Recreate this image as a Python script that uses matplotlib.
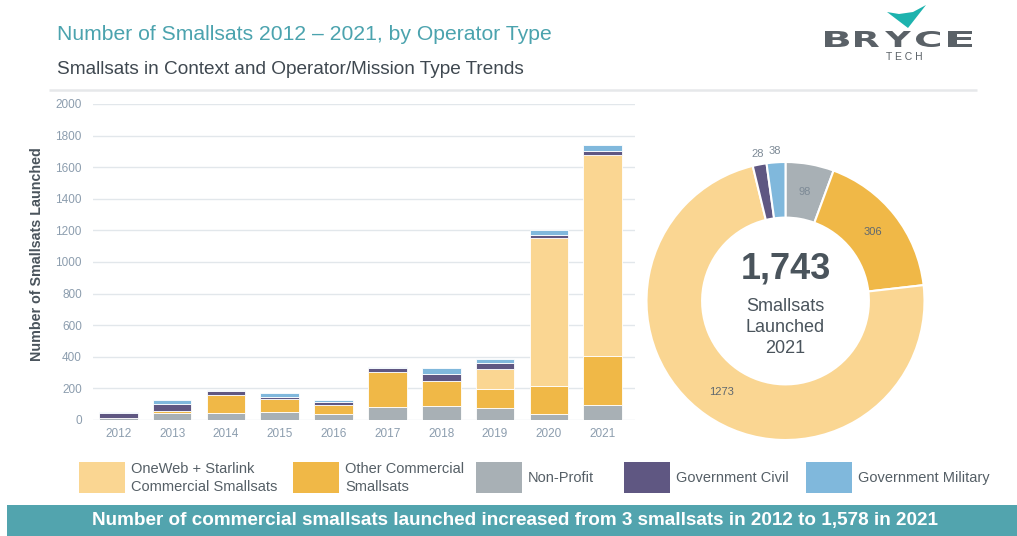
import numpy as np
import matplotlib
matplotlib.use('Agg')
import matplotlib.pyplot as plt
from matplotlib.patches import Rectangle, Polygon, PathPatch
from matplotlib.textpath import TextPath
from matplotlib.font_manager import FontProperties
from matplotlib.transforms import Affine2D

plt.rcParams['font.family'] = ['Liberation Sans', 'DejaVu Sans']

years = ['2012', '2013', '2014', '2015', '2016', '2017', '2018', '2019', '2020', '2021']
non_profit = [11, 46, 42, 51, 36, 80, 91, 78, 40, 98]
other_comm = [3, 13, 114, 80, 59, 226, 156, 116, 173, 306]
oneweb_starlink = [0, 0, 0, 0, 0, 0, 0, 127, 937, 1273]
gov_civil = [28, 40, 25, 17, 21, 21, 46, 42, 23, 28]
gov_military = [9, 30, 11, 23, 8, 8, 34, 25, 28, 38]

legend_labels = ['OneWeb + Starlink\nCommercial Smallsats', 'Other Commercial\nSmallsats',
                 'Non-Profit', 'Government Civil', 'Government Military']

C_ONEWEB = '#FAD692'
C_OTHER = '#F0B847'
C_NONPROF = '#A8B0B5'
C_CIVIL = '#5F5782'
C_MIL = '#80B8DC'
TEAL = '#4BA3AE'
DARK = '#4A545C'
TICK = '#8C9DAE'

W, H = 1017, 536
fig = plt.figure(figsize=(W / 100, H / 100), dpi=100)
fig.patch.set_facecolor('white')

# pixel-space overlay for titles, legend, logo and banner
ov = fig.add_axes([0, 0, 1, 1])
ov.set_xlim(0, W)
ov.set_ylim(H, 0)
ov.axis('off')

ov.text(57, 34, 'Number of Smallsats 2012 \u2013 2021, by Operator Type', fontsize=15.2,
        color=TEAL, va='center', ha='left')
ov.text(57, 70, 'Smallsats in Context and Operator/Mission Type Trends', fontsize=13.7,
        color='#3F4850', va='center', ha='left')
ov.plot([49, 977], [90, 90], color='#E6E8EA', lw=1.8, solid_capstyle='butt')

# logo
ov.add_patch(Polygon([(887, 12), (908, 28), (926, 5), (913, 12), (899, 14)],
                     closed=True, color='#1DB3AE', lw=0))
fp = FontProperties(family='DejaVu Sans', weight='bold')
for ch, cx in zip('BRYCE', [837, 867, 898, 928, 960]):
    tp = TextPath((0, 0), ch, size=10, prop=fp)
    ext = tp.get_extents()
    sy = 16 / ext.height
    sx = 24 / ext.width if ch != 'Y' else 26 / ext.width
    tr = Affine2D().translate(-(ext.x0 + ext.width / 2), -ext.y0).scale(sx, -sy).translate(cx, 47)
    ov.add_patch(PathPatch(tr.transform_path(tp), color='#5A6167', lw=0))
ov.text(904, 57, 'T E C H', fontsize=7.5, color='#5A6167', ha='center', va='center')

# stacked bars
ax = fig.add_axes([93 / W, 1 - 420 / H, (635 - 93) / W, 316 / H])
x = np.arange(len(years))
bw = 0.72
bottom = np.zeros(len(years))
for vals, col in [(non_profit, C_NONPROF), (other_comm, C_OTHER), (oneweb_starlink, C_ONEWEB),
                  (gov_civil, C_CIVIL), (gov_military, C_MIL)]:
    ax.bar(x, vals, bw, bottom=bottom, color=col, edgecolor='white', linewidth=0.6, zorder=3)
    bottom += np.array(vals)
ax.set_xlim(-0.47, 9.6)
ax.set_ylim(0, 2000)
ax.set_yticks(range(0, 2001, 200))
ax.set_xticks(x)
ax.set_xticklabels(years)
ax.grid(axis='y', color='#E2E7EB', lw=1, zorder=0)
for s in ax.spines.values():
    s.set_visible(False)
ax.tick_params(length=0, colors=TICK, labelsize=8.5)
ax.tick_params(axis='y', pad=8)
ax.tick_params(axis='x', pad=6)
fig.text(37 / W, 1 - 254 / H, 'Number of Smallsats Launched', rotation=90, fontsize=10.3,
         fontweight='bold', color=DARK, ha='center', va='center')

# donut for 2021
r_px = 139
cx, cy = 785.5, 301
pax = fig.add_axes([(cx - r_px) / W, 1 - (cy + r_px) / H, 2 * r_px / W, 2 * r_px / H])
last = len(years) - 1
d_vals = [non_profit[last], other_comm[last], oneweb_starlink[last], gov_civil[last], gov_military[last]]
d_cols = [C_NONPROF, C_OTHER, C_ONEWEB, C_CIVIL, C_MIL]
pax.pie(d_vals, colors=d_cols, startangle=90, counterclock=False,
        wedgeprops=dict(width=0.4, edgecolor='white', linewidth=1.5))
pax.set_xlim(-1, 1)
pax.set_ylim(-1, 1)
pax.set_aspect('equal')
total = sum(d_vals)
ang = 90.0
for i, v in enumerate(d_vals):
    span = 360.0 * v / total
    mid = np.deg2rad(ang - span / 2)
    rr = 0.8 if v > 60 else 1.08
    col = '#7D8A96' if (i == 0 or rr > 1) else '#5F686F'
    pax.text(rr * np.cos(mid), rr * np.sin(mid), str(v), fontsize=8, color=col,
             ha='center', va='center')
    ang -= span
pax.text(0, 0.23, f'{total:,}', fontsize=26, fontweight='bold', color=DARK, ha='center', va='center')
pax.text(0, -0.19, 'Smallsats\nLaunched\n2021', fontsize=13, color=DARK, ha='center',
         va='center', linespacing=1.3)

# legend
lx = [79, 293, 476, 624, 806]
for px0, lab, col in zip(lx, legend_labels, [C_ONEWEB, C_OTHER, C_NONPROF, C_CIVIL, C_MIL]):
    ov.add_patch(Rectangle((px0, 462), 46, 31, color=col, lw=0))
    ov.text(px0 + 52, 478, lab, fontsize=10.5, color='#555F66', ha='left', va='center',
            linespacing=1.38)

# bottom banner
ov.add_patch(Rectangle((7, 505), W - 7, 31, color='#52A4AE', lw=0))
ov.text(515, 521, 'Number of commercial smallsats launched increased from 3 smallsats in 2012 to 1,578 in 2021',
        fontsize=13.6, fontweight='bold', color='white', ha='center', va='center')

fig.savefig('out.png', dpi=100)
